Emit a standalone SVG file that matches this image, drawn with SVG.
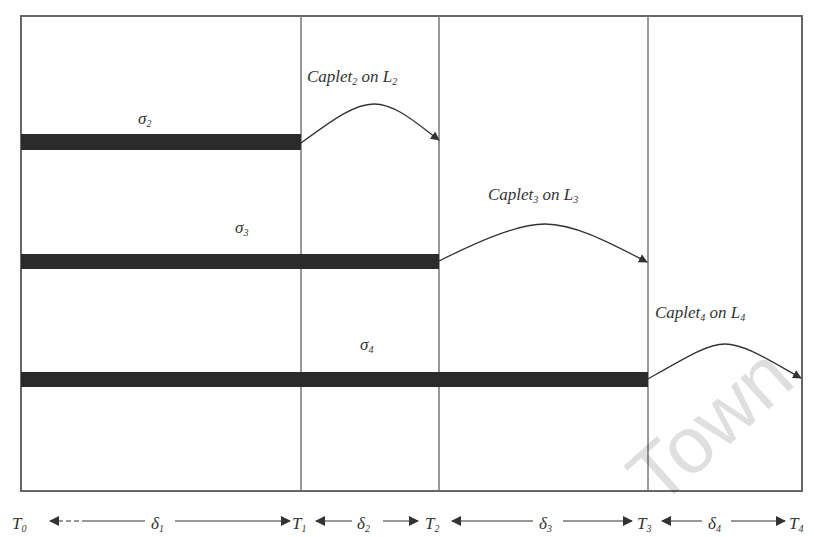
<svg xmlns="http://www.w3.org/2000/svg" width="814" height="537" viewBox="0 0 814 537">
<style>
.t{font-family:"Liberation Serif","DejaVu Serif",serif;font-style:italic;font-size:17px;fill:#333}
.bar{fill:#2b2b2b}
.frame{fill:none;stroke:#666;stroke-width:2}
.vl{stroke:#777;stroke-width:1.5}
.cv{fill:none;stroke:#333;stroke-width:1.3}
.ax{stroke:#333;stroke-width:1.2;fill:none}
.wm{font-family:"Liberation Sans",Arial,sans-serif;font-size:80px;fill:#000;opacity:0.12}
</style>
<defs>
<marker id="ah" viewBox="0 0 10 10" refX="9" refY="5" markerWidth="9" markerHeight="9" markerUnits="userSpaceOnUse" orient="auto">
<path d="M0,0 L10,5 L0,10 Z" fill="#333"/>
</marker>
<marker id="ab" viewBox="0 0 10 10" refX="9" refY="5" markerWidth="12" markerHeight="10" markerUnits="userSpaceOnUse" orient="auto-start-reverse">
<path d="M0,0 L10,5 L0,10 Z" fill="#333"/>
</marker>
</defs>
<rect width="814" height="537" fill="#fff"/>
<g id="frame">
<rect class="frame" x="21" y="16" width="781" height="475"/>
<line class="vl" x1="301" y1="16" x2="301" y2="491"/>
<line class="vl" x1="439" y1="16" x2="439" y2="491"/>
<line class="vl" x1="648" y1="16" x2="648" y2="491"/>
</g>
<g id="sigma2">
<rect class="bar" x="21" y="134" width="280" height="16"/>
<text class="t" x="138" y="124">σ<tspan font-size="10" dy="3">2</tspan></text>
</g>
<g id="sigma3">
<rect class="bar" x="21" y="254" width="418" height="15"/>
<text class="t" x="235" y="233">σ<tspan font-size="10" dy="3">3</tspan></text>
</g>
<g id="sigma4">
<rect class="bar" x="21" y="372" width="627" height="15"/>
<text class="t" x="360" y="350">σ<tspan font-size="10" dy="3">4</tspan></text>
</g>
<g id="caplet2">
<text class="t" x="307" y="82">Caplet<tspan font-size="10" dy="3">2</tspan><tspan dy="-3"> on L</tspan><tspan font-size="10" dy="3">2</tspan></text>
</g>
<g id="caplet3">
<text class="t" x="488" y="200">Caplet<tspan font-size="10" dy="3">3</tspan><tspan dy="-3"> on L</tspan><tspan font-size="10" dy="3">3</tspan></text>
</g>
<g id="caplet4">
<text class="t" x="655" y="318">Caplet<tspan font-size="10" dy="3">4</tspan><tspan dy="-3"> on L</tspan><tspan font-size="10" dy="3">4</tspan></text>
</g>
<g id="connectors">
<path class="cv" d="M301,143 C335,118 355,104 374,104 C395,104 415,122 439,140" marker-end="url(#ah)"/>
<path class="cv" d="M439,261 C485,238 520,224 545,224 C575,224 610,243 647,262" marker-end="url(#ah)"/>
<path class="cv" d="M648,379 C688,356 708,344 725,344 C745,344 772,362 801,378" marker-end="url(#ah)"/>
</g>
<g id="axis">
<text class="t" x="12" y="529">T<tspan font-size="10" dy="3">0</tspan></text>
<line class="ax" x1="50" y1="521" x2="86" y2="521" stroke-dasharray="5,3" marker-start="url(#ab)"/>
<line class="ax" x1="86" y1="521" x2="145" y2="521"/>
<text class="t" x="151" y="529">δ<tspan font-size="10" dy="3">1</tspan></text>
<line class="ax" x1="175" y1="521" x2="290" y2="521" marker-end="url(#ab)"/>
<text class="t" x="292" y="529">T<tspan font-size="10" dy="3">1</tspan></text>
<line class="ax" x1="316" y1="521" x2="352" y2="521" marker-start="url(#ab)"/>
<text class="t" x="357" y="529">δ<tspan font-size="10" dy="3">2</tspan></text>
<line class="ax" x1="383" y1="521" x2="418" y2="521" marker-end="url(#ab)"/>
<text class="t" x="425" y="529">T<tspan font-size="10" dy="3">2</tspan></text>
<line class="ax" x1="452" y1="521" x2="533" y2="521" marker-start="url(#ab)"/>
<text class="t" x="539" y="529">δ<tspan font-size="10" dy="3">3</tspan></text>
<line class="ax" x1="563" y1="521" x2="632" y2="521" marker-end="url(#ab)"/>
<text class="t" x="637" y="529">T<tspan font-size="10" dy="3">3</tspan></text>
<line class="ax" x1="662" y1="521" x2="702" y2="521" marker-start="url(#ab)"/>
<text class="t" x="708" y="529">δ<tspan font-size="10" dy="3">4</tspan></text>
<line class="ax" x1="731" y1="521" x2="785" y2="521" marker-end="url(#ab)"/>
<text class="t" x="789" y="529">T<tspan font-size="10" dy="3">4</tspan></text>
</g>
<text class="wm" x="712" y="452" text-anchor="middle" transform="rotate(-42 712 428)">Town</text>
</svg>
